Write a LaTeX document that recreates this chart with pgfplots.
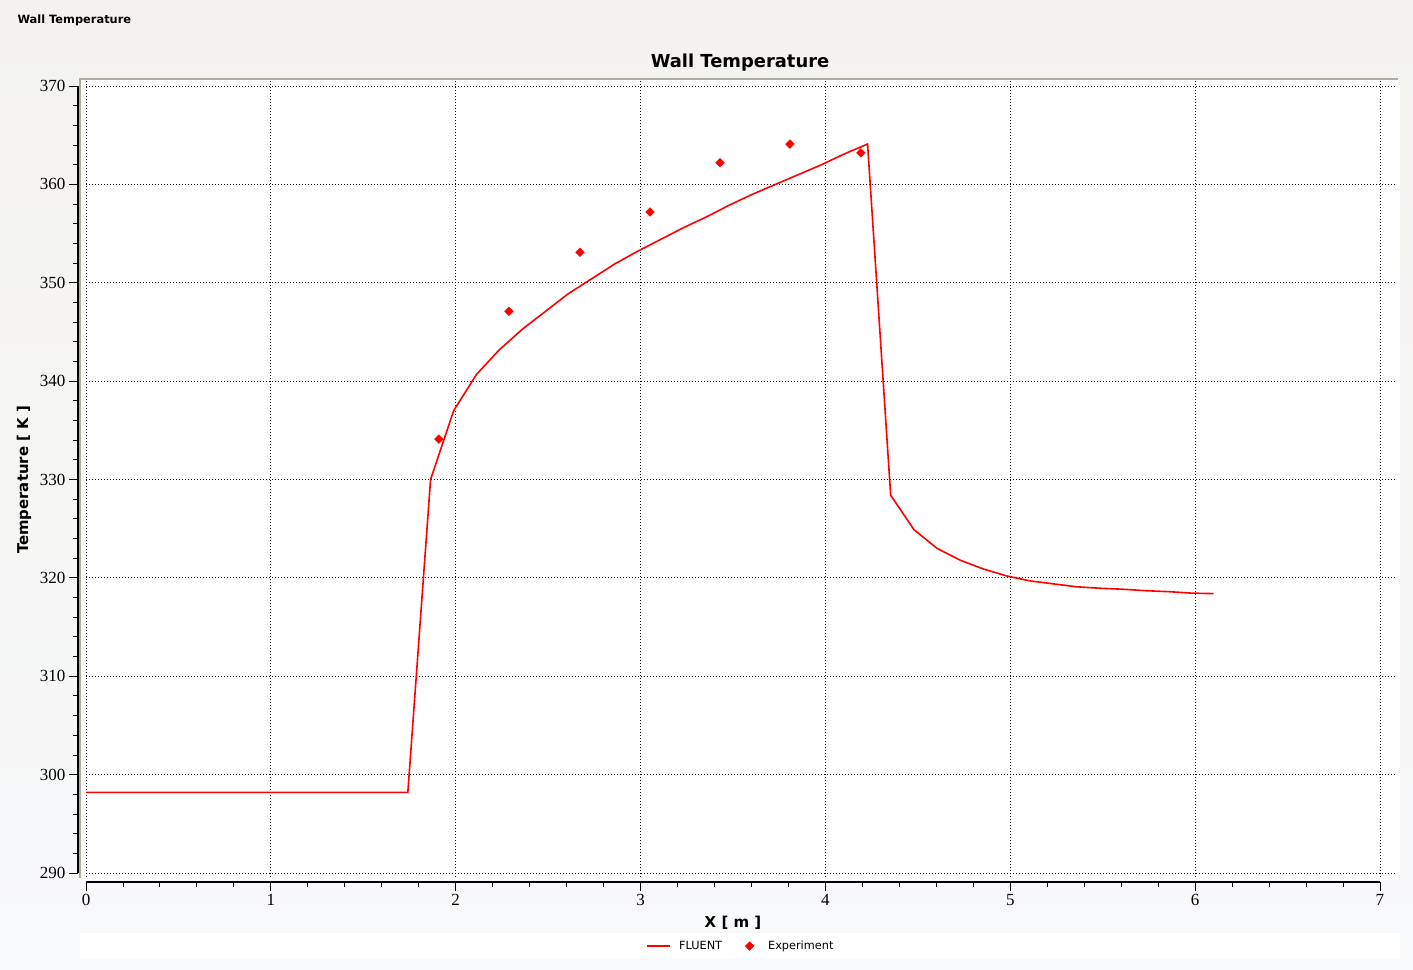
\documentclass[border=0pt]{standalone}
\usepackage{fontspec}
\setmainfont{DejaVu Sans}
\newfontfamily\tickfont{Liberation Serif}
\usepackage{pgfplots}
\pgfplotsset{compat=1.18}
\definecolor{panel}{HTML}{F3F2EE}
\definecolor{panelb}{HTML}{F8F9FB}
\definecolor{framegray}{HTML}{B0AC9F}

\begin{document}
\begin{tikzpicture}
\useasboundingbox (0,0) rectangle (1413bp,-970bp);
\shade[top color=panel, bottom color=panelb] (0,0) rectangle (1413bp,-970bp);
\fill[white] (81bp,-79bp) rectangle (1400bp,-880bp);
\fill[white] (80bp,-933bp) rectangle (1400bp,-958bp);
\draw[framegray, line width=2bp] (80bp,-878bp) -- (80bp,-79bp) -- (1398bp,-79bp);

\node[font=\bfseries\fontsize{11.4bp}{13bp}\selectfont, anchor=west] at (14bp,-20.5bp) {Wall Temperature};
\node[font=\bfseries\fontsize{17.9bp}{20bp}\selectfont] at (740bp,-62.5bp) {Wall Temperature};
\node[font=\bfseries\fontsize{15bp}{17bp}\selectfont] at (733bp,-923bp) {X [ m ]};
\node[font=\bfseries\fontsize{14.9bp}{17bp}\selectfont, rotate=90] at (24bp,-480bp) {Temperature [ K ]};

% dotted grid, slightly wider than the data range
\begin{axis}[
    scale only axis, width=1311bp, height=797bp,
    at={(86bp,-877bp)}, anchor=south west,
    xmin=0, xmax=7.092, ymin=289.59, ymax=370.61,
    xtick={0,...,7}, ytick={290,300,...,370},
    xticklabels={}, yticklabels={},
    axis line style={draw=none}, tick style={draw=none},
    grid=major,
    major grid style={black, line width=0.8bp, dash pattern=on 1bp off 2bp},
]
\end{axis}

\begin{axis}[
    scale only axis, width=1294bp, height=787bp,
    at={(86bp,-873bp)}, anchor=south west,
    xmin=0, xmax=7, ymin=290, ymax=370,
    axis x line=bottom, axis y line=left,
    axis x line shift=9bp, axis y line shift=8bp,
    axis line style={-, black, line width=1.2bp},
    xtick={0,...,7}, ytick={290,300,...,370},
    minor x tick num=4, minor y tick num=4,
    tick align=outside, major tick length=9bp, minor tick length=5bp,
    tick style={black, line width=0.9bp},
    /pgf/number format/assume math mode=true,
    ticklabel style={font=\tickfont\fontsize{17bp}{17bp}\selectfont},
    legend columns=2,
    legend style={at={(0.5054,-0.0928)}, anchor=center, draw=none, fill=none,
        font=\fontsize{11.3bp}{13bp}\selectfont,
        nodes={inner xsep=0bp}},
]
\addplot[red, line width=1.6bp,
    legend image code/.code={\draw[red, line width=1.6bp] (0bp,0bp) -- (23bp,0bp);}]
coordinates {
(0,298.2) (1.741,298.2) (1.864,330.0) (1.989,337.0) (2.113,340.7)
(2.237,343.2) (2.362,345.3) (2.486,347.1) (2.610,348.9) (2.735,350.4)
(2.859,351.9) (2.984,353.2) (3.108,354.4) (3.232,355.6) (3.357,356.7)
(3.481,357.9) (3.606,359.0) (3.730,360.0) (3.855,361.0) (3.979,362.0)
(4.103,363.1) (4.228,364.1)
(4.353,328.4) (4.479,324.9) (4.604,323.0) (4.729,321.8) (4.855,320.9)
(4.980,320.2) (5.105,319.7) (5.230,319.4) (5.356,319.1) (5.481,318.95)
(5.606,318.85) (5.731,318.7) (5.857,318.6) (5.982,318.45) (6.100,318.4)
};
\addlegendentry{\hspace{8bp}FLUENT\rule{16bp}{0pt}}
\addplot[only marks, mark=square*, mark size=3.1bp, red,
    mark options={rotate=45, fill=red, draw=red},
    legend image code/.code={\path[draw=none, fill=none] (0bp,0bp) -- (23bp,0bp);
        \fill[red, rotate around={45:(11.5bp,0bp)}]
            (8.4bp,-3.1bp) rectangle (14.6bp,3.1bp);}]
coordinates {
(1.909,334.1) (2.288,347.1) (2.672,353.1) (3.051,357.2)
(3.430,362.2) (3.808,364.1) (4.192,363.2)
};
\addlegendentry{\hspace{7bp}Experiment}
\end{axis}
\end{tikzpicture}
\end{document}
